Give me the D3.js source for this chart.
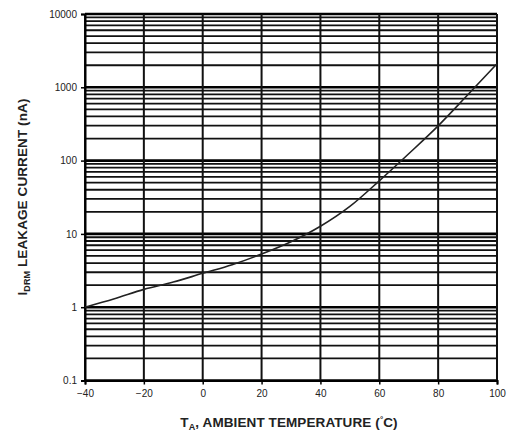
<!DOCTYPE html>
<html>
<head>
<meta charset="utf-8">
<script src="https://cdn.jsdelivr.net/npm/d3@7"></script>
<style>
  html, body { margin: 0; padding: 0; background: #fff; }
  svg { display: block; font-family: "Liberation Sans", Arial, sans-serif; }
</style>
</head>
<body>
<svg id="chart" width="512" height="434"></svg>
<script>
// Data
const temperatures = [-40, -30, -20, -10, 0, 10, 20, 30, 40, 50, 60, 70, 80, 90, 100];
const leakageCurrent = [1.0, 1.3, 1.75, 2.2, 2.9, 3.8, 5.3, 7.8, 12.7, 23.7, 53, 124, 298, 784, 2100];
const xTickValues = [-40, -20, 0, 20, 40, 60, 80, 100];
const yTickValues = [0.1, 1, 10, 100, 1000, 10000];
const yTickLabels = ["0.1", "1", "10", "100", "1000", "10000"];

const svg = d3.select("#chart");
const mLeft = 85, mRight = 497, mTop = 14, mBottom = 380.5;

const x = d3.scaleLinear().domain([-40, 100]).range([mLeft, mRight]);
const y = d3.scaleLog().domain([0.1, 10000]).range([mBottom, mTop]);

// minor horizontal grid lines (2..9 in each decade)
const minor = [];
for (let d = 0.1; d < 10000; d *= 10) {
  for (let k = 2; k <= 9; k++) minor.push(+(d * k).toPrecision(3));
}
svg.append("g").selectAll("line").data(minor).join("line")
  .attr("x1", mLeft).attr("x2", mRight)
  .attr("y1", d => y(d)).attr("y2", d => y(d))
  .attr("stroke", "#111").attr("stroke-width", 1.8);

// major horizontal lines
svg.append("g").selectAll("line").data(yTickValues).join("line")
  .attr("x1", mLeft).attr("x2", mRight)
  .attr("y1", d => y(d)).attr("y2", d => y(d))
  .attr("stroke", "#000").attr("stroke-width", 2.6);

// vertical grid lines
svg.append("g").selectAll("line").data(xTickValues).join("line")
  .attr("x1", d => x(d)).attr("x2", d => x(d))
  .attr("y1", mTop).attr("y2", mBottom)
  .attr("stroke", "#111").attr("stroke-width", 2);

// axes
const yAxis = d3.axisLeft(y).tickValues(yTickValues)
  .tickFormat((d, i) => yTickLabels[i]).tickSize(4).tickPadding(4);
const gy = svg.append("g").attr("transform", `translate(${mLeft},0)`).call(yAxis);
gy.select(".domain").attr("stroke", "#000").attr("stroke-width", 2);
gy.selectAll(".tick line").attr("stroke", "#000").attr("stroke-width", 1.5);
gy.selectAll(".tick text").attr("font-size", 10).attr("fill", "#222")
  .attr("font-family", "Liberation Sans, Arial, sans-serif");

const xAxis = d3.axisBottom(x).tickValues(xTickValues).tickSize(4).tickPadding(5);
const gx = svg.append("g").attr("transform", `translate(0,${mBottom})`).call(xAxis);
gx.select(".domain").attr("stroke", "#000").attr("stroke-width", 2);
gx.selectAll(".tick line").attr("stroke", "#000").attr("stroke-width", 1.5);
gx.selectAll(".tick text").attr("font-size", 10).attr("fill", "#222")
  .attr("font-family", "Liberation Sans, Arial, sans-serif");

// curve
const line = d3.line()
  .x((d, i) => x(temperatures[i]))
  .y(d => y(d))
  .curve(d3.curveMonotoneX);
svg.append("path").datum(leakageCurrent)
  .attr("d", line)
  .attr("fill", "none").attr("stroke", "#222").attr("stroke-width", 1.6);

// x axis title
const xt = svg.append("text")
  .attr("x", 289).attr("y", 427)
  .attr("text-anchor", "middle")
  .attr("font-size", 13.5).attr("font-weight", "bold").attr("fill", "#222")
  .attr("letter-spacing", 0.1);
xt.append("tspan").text("T");
xt.append("tspan").attr("font-size", 9).attr("dy", 3).text("A");
xt.append("tspan").attr("dy", -3).text(", AMBIENT TEMPERATURE (");
xt.append("tspan").attr("font-size", 8).attr("dy", -5).text("°");
xt.append("tspan").attr("dy", 5).text("C)");

// y axis title
const yt = svg.append("text")
  .attr("transform", `translate(27,197) rotate(-90)`)
  .attr("text-anchor", "middle")
  .attr("font-size", 13.5).attr("font-weight", "bold").attr("fill", "#222")
  .attr("letter-spacing", 0.1);
yt.append("tspan").text("I");
yt.append("tspan").attr("font-size", 9).attr("dy", 3).text("DRM");
yt.append("tspan").attr("dy", -3).text(" LEAKAGE CURRENT (nA)");
</script>
</body>
</html>
